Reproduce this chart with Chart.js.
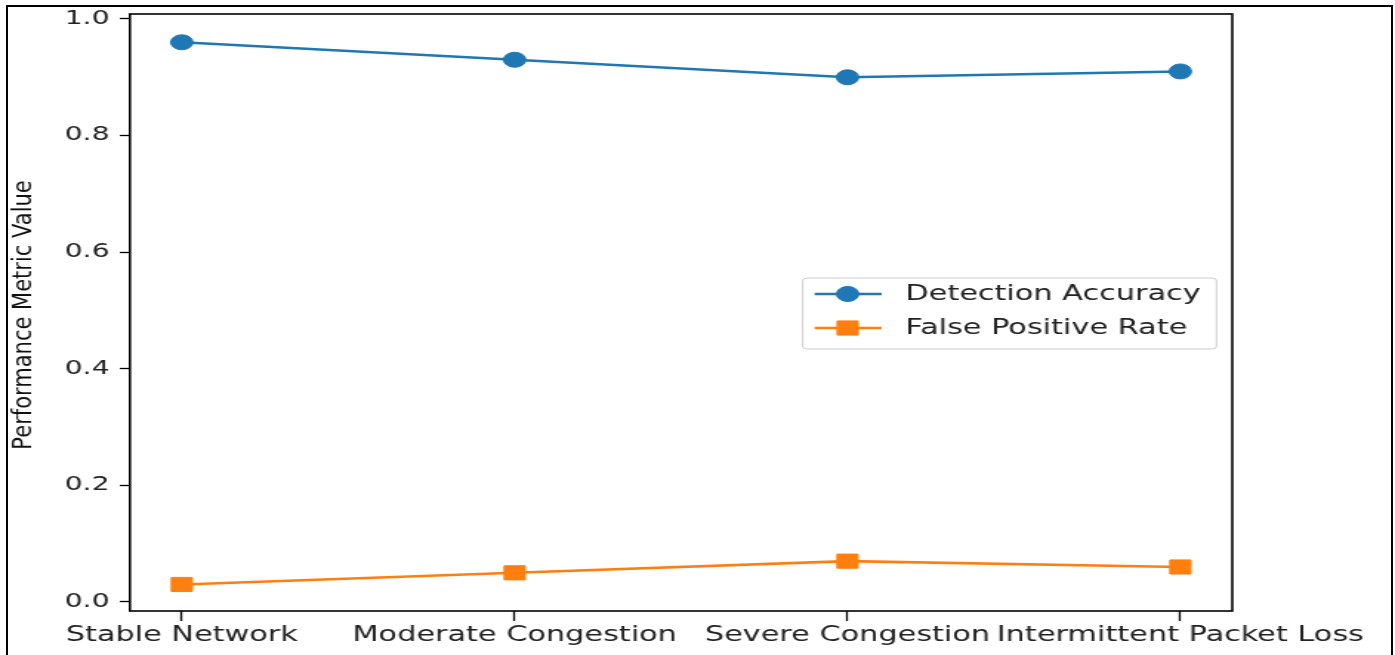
<!DOCTYPE html>
<html>
<head>
<meta charset="utf-8">
<script src="https://cdn.jsdelivr.net/npm/chart.js@4.4.0/dist/chart.umd.min.js"></script>
<style>
html, body { margin: 0; padding: 0; background: #fff; overflow: hidden; }
#wrap { position: relative; width: 1395px; height: 655px; }
#chart { position: absolute; left: 0; top: 0; }
#frame { position: absolute; left: 6px; top: 5px; width: 1383px; height: 700px; border: 2px solid #000; pointer-events: none; }
</style>
</head>
<body>
<div id="wrap">
  <!-- drawn at 943 wide, shown stretched to 1395 like the original screenshot -->
  <canvas id="chart" width="943" height="655" style="width:1395px;height:655px"></canvas>
  <div id="frame"></div>
</div>
<script>
// Network conditions and metric values
const conditions = ['Stable Network', 'Moderate Congestion', 'Severe Congestion', 'Intermittent Packet Loss'];
const detectionAccuracy = [0.96, 0.93, 0.90, 0.91];
const falsePositiveRate = [0.03, 0.05, 0.07, 0.06];
const yTicks = [0.0, 0.2, 0.4, 0.6, 0.8, 1.0];
const yTitle = 'Performance Metric Value';

const FONT = 'DejaVu Sans';

// full box around the plot, like matplotlib spines
const spines = {
  id: 'spines',
  afterDraw(chart) {
    const { ctx, chartArea: a } = chart;
    ctx.save();
    ctx.strokeStyle = '#000';
    ctx.lineWidth = 1.6;
    ctx.strokeRect(a.left, a.top, a.right - a.left, a.bottom - a.top);
    ctx.restore();
  }
};

// rotated y title, partly squeezed back so the stretch does not thicken it too much
const yLabel = {
  id: 'yLabel',
  afterDraw(chart) {
    const ctx = chart.ctx;
    ctx.save();
    ctx.translate(16.3, 315);
    ctx.rotate(-Math.PI / 2);
    ctx.scale(1, 0.8);
    ctx.font = `21px "${FONT}"`;
    ctx.fillStyle = '#111';
    ctx.textAlign = 'center';
    ctx.textBaseline = 'middle';
    ctx.fillText(yTitle, 0, 0);
    ctx.restore();
  }
};

// legend box inside the plot, right-middle
const insideLegend = {
  id: 'insideLegend',
  afterDraw(chart) {
    const ctx = chart.ctx;
    const box = { x: 542.6, y: 278, w: 279.7, h: 71 };
    ctx.save();
    ctx.beginPath();
    ctx.roundRect(box.x, box.y, box.w, box.h, 3);
    ctx.fillStyle = 'rgba(255,255,255,0.8)';
    ctx.fill();
    ctx.strokeStyle = '#cccccc';
    ctx.lineWidth = 1;
    ctx.stroke();

    const rows = [294, 328];
    chart.data.datasets.forEach((ds, i) => {
      const y = rows[i];
      ctx.beginPath();
      ctx.moveTo(550.7, y);
      ctx.lineTo(596, y);
      ctx.strokeStyle = ds.borderColor;
      ctx.lineWidth = ds.borderWidth;
      ctx.stroke();
      ctx.fillStyle = ds.backgroundColor;
      ctx.strokeStyle = ds.borderColor;
      ctx.lineWidth = ds.pointBorderWidth;
      Chart.helpers.drawPoint(ctx, {
        pointStyle: ds.pointStyle,
        radius: ds.pointRadius,
        borderWidth: ds.pointBorderWidth,
        rotation: 0
      }, 573, y);
      ctx.fillStyle = '#222';
      ctx.font = `20.5px "${FONT}"`;
      ctx.textAlign = 'left';
      ctx.textBaseline = 'middle';
      ctx.fillText(ds.label, 612, y + 1);
    });
    ctx.restore();
  }
};

const toPoints = (vals) => vals.map((v, i) => ({ x: i, y: v }));

new Chart(document.getElementById('chart'), {
  type: 'line',
  data: {
    datasets: [
      {
        label: 'Detection Accuracy',
        data: toPoints(detectionAccuracy),
        borderColor: '#1f77b4',
        backgroundColor: '#1f77b4',
        borderWidth: 2.6,
        pointStyle: 'circle',
        pointRadius: 7.5,
        pointBorderWidth: 1
      },
      {
        label: 'False Positive Rate',
        data: toPoints(falsePositiveRate),
        borderColor: '#ff7f0e',
        backgroundColor: '#ff7f0e',
        borderWidth: 2.6,
        pointStyle: 'rect',
        pointRadius: 10,
        pointBorderWidth: 1
      }
    ]
  },
  options: {
    responsive: false,
    animation: false,
    devicePixelRatio: 1,
    layout: { padding: { left: 0, right: 110, top: 14, bottom: 0 } },
    plugins: { legend: { display: false }, tooltip: { enabled: false } },
    scales: {
      x: {
        type: 'linear',
        min: -0.156,
        max: 3.156,
        afterBuildTicks: (s) => { s.ticks = conditions.map((c, i) => ({ value: i })); },
        afterFit: (s) => { s.height = 44; },
        grid: { drawOnChartArea: false, drawTicks: true, tickLength: 10, tickColor: '#000', tickWidth: 1.3 },
        border: { display: false },
        ticks: {
          autoSkip: false, maxRotation: 0, minRotation: 0, padding: 2,
          color: '#222', font: { family: FONT, size: 20.5 },
          callback: (v) => conditions[v] ?? ''
        }
      },
      y: {
        min: -0.0155,
        max: 1.0085,
        afterBuildTicks: (s) => { s.ticks = yTicks.map(v => ({ value: v })); },
        afterFit: (s) => { s.width = 87.8; },
        grid: { drawOnChartArea: false, drawTicks: true, tickLength: 6.8, tickColor: '#000', tickWidth: 1.3 },
        border: { display: false },
        ticks: {
          padding: 7, color: '#222', font: { family: FONT, size: 19, lineHeight: 0.5 },
          callback: (v) => v.toFixed(1)
        }
      }
    }
  },
  plugins: [spines, yLabel, insideLegend]
});
</script>
</body>
</html>
